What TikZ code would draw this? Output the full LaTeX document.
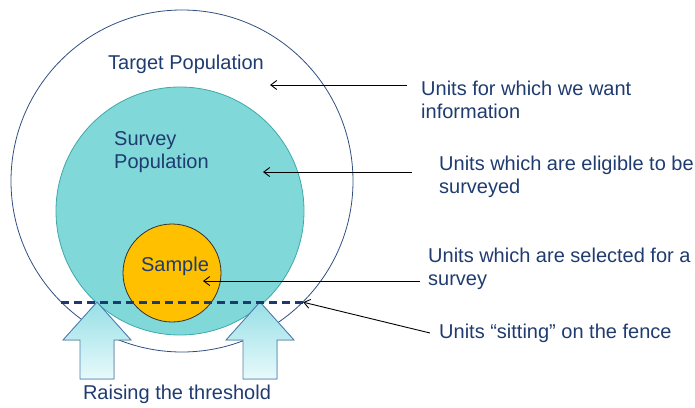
\documentclass[tikz,border=0pt]{standalone}
\usepackage{fontspec}
\setmainfont{Liberation Sans}
\usetikzlibrary{arrows.meta,positioning}
\definecolor{navytext}{HTML}{1F3B70}
\definecolor{outerline}{HTML}{2F4F7F}
\definecolor{surveyfill}{HTML}{80D8D9}
\definecolor{surveyline}{HTML}{3EA9AA}
\definecolor{samplefill}{HTML}{FFC000}
\definecolor{fenceline}{HTML}{1B3A70}
\definecolor{liftline}{HTML}{4F7FB0}
\definecolor{lifttop}{HTML}{96DFE6}
\definecolor{liftbottom}{HTML}{E8FAFB}

\tikzset{
  region/.style={circle, inner sep=0pt, line width=0.8pt},
  labeltext/.style={text=navytext, font=\fontsize{20}{23}\selectfont, inner sep=0pt, align=left},
  note/.style={labeltext, anchor=west, inner ysep=0pt},
  pointer/.style={-{Straight Barb[length=6pt,width=9pt]}, black, line width=0.9pt},
  lift/.style={draw=liftline, line width=0.9pt, top color=lifttop, bottom color=liftbottom, line join=miter}
}

\begin{document}
\begin{tikzpicture}[x=1pt,y=-1pt]
\useasboundingbox (0,0) rectangle (695,407);

%Target population
\node[region, draw=outerline, minimum size=342pt] (target) at (182,181) {};

%Survey population
\node[region, draw=surveyline, fill=surveyfill, minimum size=248pt] (survey) at (180,211) {};

%Sample
\node[region, draw=black!80, fill=samplefill, minimum size=98pt] (sample) at (172,273) {};

%Circle labels
\node[labeltext] (targetlbl) at (186,64) {Target Population};
\node[labeltext, anchor=west] (surveylbl) at (114,152) {Survey\\Population};
\node[labeltext] (samplelbl) at (175,266) {Sample};

%Raising arrow left
\filldraw[lift] (97,302) -- (131,340) -- (114,340) -- (114,379) -- (80,379) -- (80,340) -- (63,340) -- cycle;

%Raising arrow right
\filldraw[lift] (260,302) -- (294,340) -- (277,340) -- (277,379) -- (243,379) -- (243,340) -- (226,340) -- cycle;

%Fence
\draw[fenceline, line width=3pt, dash pattern=on 8.5pt off 4.5pt] (target.225) -- (target.315);

\node[labeltext] (threshold) at (177,394) {Raising the threshold};

%Notes on the right
\node[note, inner xsep=14pt] (note1) at (407,100) {Units for which we want\\information};
\node[note, inner xsep=27pt] (note2) at (412,177) {Units which are eligible to be\\surveyed};
\node[note, inner xsep=8pt] (note3) at (420,269) {Units which are selected for a\\survey};
\node[note, inner xsep=9pt] (note4) at (430,333) {Units “sitting” on the fence};

\coordinate (tipA) at (270,85);
\coordinate (tipB) at (263,172);
\coordinate (tipC) at (203,281);

\draw[pointer] (note1.west |- tipA) -- (tipA);
\draw[pointer] (note2.west |- tipB) -- (tipB);
\draw[pointer] (note3.west |- tipC) -- (tipC);
\draw[pointer] (note4.west) -- (target.315);
\end{tikzpicture}
\end{document}
